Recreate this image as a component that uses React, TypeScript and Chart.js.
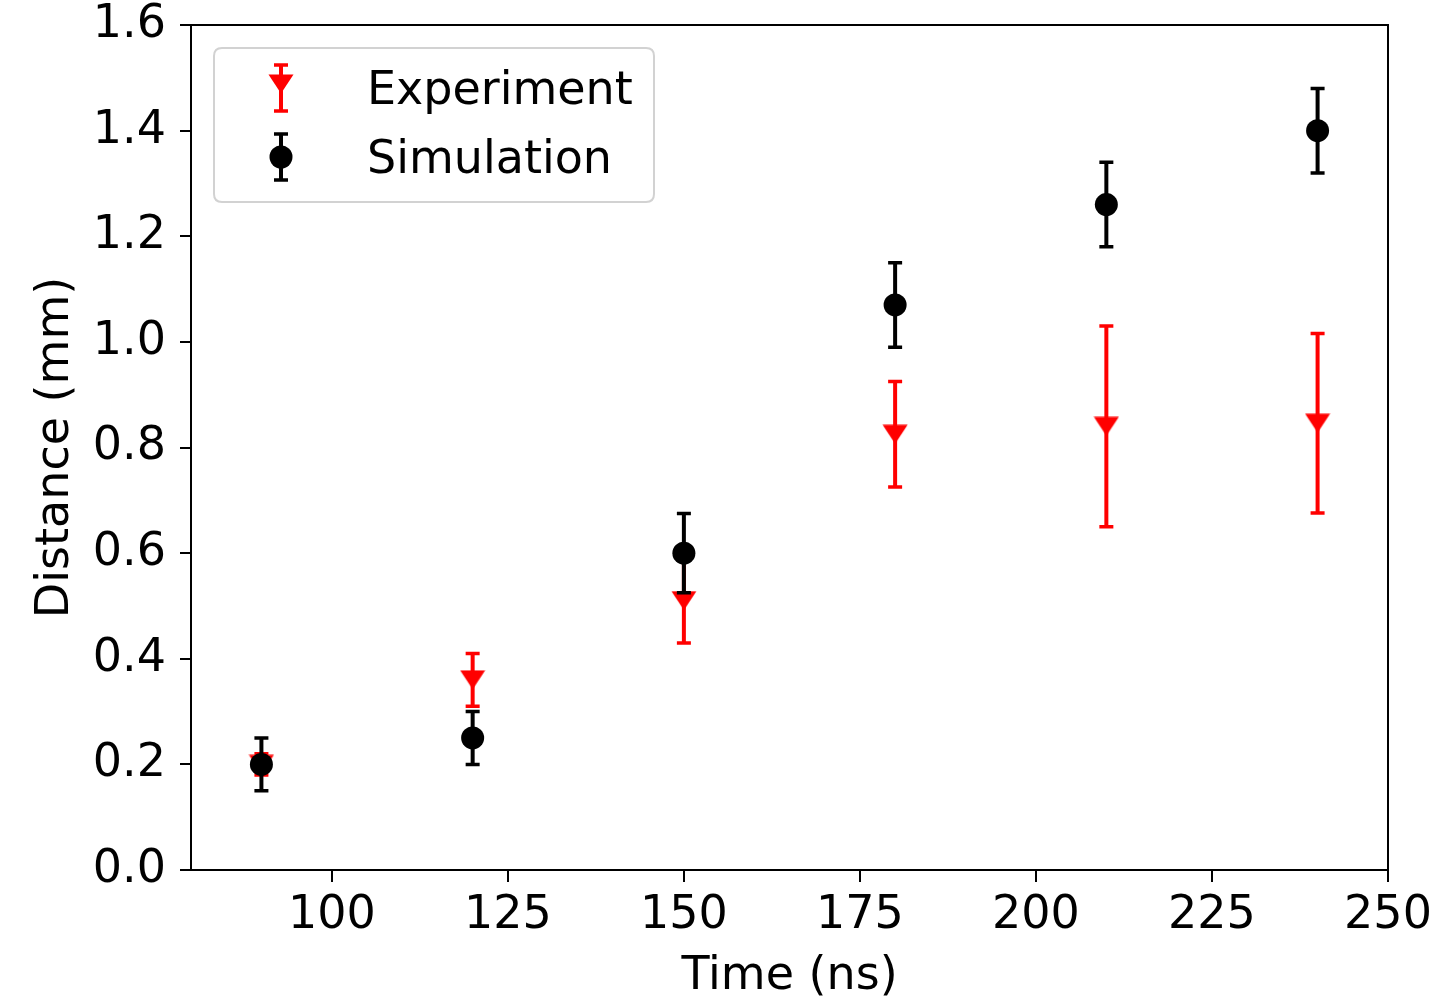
import React, { useEffect, useRef } from "react";
import { Chart, registerables } from "chart.js";

Chart.register(...registerables);

// ---- data ----
const times = [90, 120, 150, 180, 210, 240];
const experiment = [0.2, 0.36, 0.51, 0.825, 0.84, 0.846];
const experimentErr = [0.02, 0.05, 0.08, 0.1, 0.19, 0.17];
const simulation = [0.2, 0.25, 0.6, 1.07, 1.26, 1.4];
const simulationErr = [0.05, 0.05, 0.075, 0.08, 0.08, 0.08];
const xTicks = [100, 125, 150, 175, 200, 225, 250];
const yTicks = [0.0, 0.2, 0.4, 0.6, 0.8, 1.0, 1.2, 1.4, 1.6];
const seriesNames = ["Experiment", "Simulation"];
const seriesColors = ["#ff0000", "#000000"];
const xTitle = "Time (ns)";
const yTitle = "Distance (mm)";

const FONT = "'DejaVu Sans', 'Liberation Sans', sans-serif";
const FS = 46;

function makeTriangle(color: string): HTMLCanvasElement {
  const c = document.createElement("canvas");
  c.width = 26;
  c.height = 20;
  const ctx = c.getContext("2d")!;
  ctx.fillStyle = color;
  ctx.beginPath();
  ctx.moveTo(0.5, 0.5);
  ctx.lineTo(25.5, 0.5);
  ctx.lineTo(13, 19.5);
  ctx.closePath();
  ctx.fill();
  return c;
}

function drawErrorBar(ctx: CanvasRenderingContext2D, x: number, yTop: number, yBot: number, color: string) {
  ctx.save();
  ctx.strokeStyle = color;
  ctx.lineWidth = 4;
  ctx.beginPath();
  ctx.moveTo(x, yTop);
  ctx.lineTo(x, yBot);
  ctx.stroke();
  ctx.lineWidth = 3.5;
  ctx.beginPath();
  ctx.moveTo(x - 7, yTop);
  ctx.lineTo(x + 7, yTop);
  ctx.moveTo(x - 7, yBot);
  ctx.lineTo(x + 7, yBot);
  ctx.stroke();
  ctx.restore();
}

export default function App() {
  const ref = useRef<HTMLCanvasElement>(null);

  useEffect(() => {
    if (!ref.current) return;
    const tri = makeTriangle(seriesColors[0]);
    const errs = [experimentErr, simulationErr];

    const errorBars = {
      id: "errorBars",
      beforeDatasetDraw(chart: any, args: any) {
        const i = args.index;
        const ds = chart.data.datasets[i];
        const ys = chart.scales.y;
        const ctx = chart.ctx;
        args.meta.data.forEach((pt: any, j: number) => {
          const v = ds.data[j].y;
          const e = errs[i][j];
          drawErrorBar(ctx, pt.x, ys.getPixelForValue(v + e), ys.getPixelForValue(v - e), seriesColors[i]);
        });
      },
    };

    const frameAndLegend = {
      id: "frameAndLegend",
      afterDraw(chart: any) {
        const ctx = chart.ctx;
        const a = chart.chartArea;
        ctx.save();
        ctx.strokeStyle = "#000";
        ctx.lineWidth = 2;
        ctx.strokeRect(a.left, a.top, a.right - a.left, a.bottom - a.top);

        // legend box
        const lx = a.left + 23, ly = a.top + 23, lw = 440, lh = 154, r = 8;
        ctx.beginPath();
        ctx.moveTo(lx + r, ly);
        ctx.lineTo(lx + lw - r, ly);
        ctx.quadraticCurveTo(lx + lw, ly, lx + lw, ly + r);
        ctx.lineTo(lx + lw, ly + lh - r);
        ctx.quadraticCurveTo(lx + lw, ly + lh, lx + lw - r, ly + lh);
        ctx.lineTo(lx + r, ly + lh);
        ctx.quadraticCurveTo(lx, ly + lh, lx, ly + lh - r);
        ctx.lineTo(lx, ly + r);
        ctx.quadraticCurveTo(lx, ly, lx + r, ly);
        ctx.closePath();
        ctx.fillStyle = "rgba(255,255,255,0.8)";
        ctx.fill();
        ctx.strokeStyle = "#d2d2d2";
        ctx.lineWidth = 2;
        ctx.stroke();

        const mx = lx + 67;
        const tx = lx + 153;
        const rows = [ly + 40, ly + 109];
        rows.forEach((cy, i) => {
          drawErrorBar(ctx, mx, cy - 23, cy + 23, seriesColors[i]);
          if (i === 0) {
            ctx.drawImage(tri, mx - tri.width / 2, cy - 4 - tri.height / 2);
          } else {
            ctx.fillStyle = seriesColors[i];
            ctx.beginPath();
            ctx.arc(mx, cy, 11.5, 0, Math.PI * 2);
            ctx.fill();
          }
          ctx.fillStyle = "#000";
          ctx.font = `${FS}px ${FONT}`;
          ctx.textBaseline = "middle";
          ctx.textAlign = "left";
          ctx.fillText(seriesNames[i], tx, cy + 4);
        });
        ctx.restore();
      },
    };

    const chart = new Chart(ref.current, {
      type: "scatter",
      data: {
        datasets: [
          {
            label: seriesNames[0],
            data: times.map((t, i) => ({ x: t, y: experiment[i] })),
            pointStyle: tri as any,
            pointRadius: 12,
            backgroundColor: seriesColors[0],
            borderColor: seriesColors[0],
            order: 1,
          },
          {
            label: seriesNames[1],
            data: times.map((t, i) => ({ x: t, y: simulation[i] })),
            pointStyle: "circle",
            pointRadius: 11.5,
            borderWidth: 0,
            backgroundColor: seriesColors[1],
            borderColor: seriesColors[1],
            order: 0,
          },
        ],
      },
      options: {
        animation: false,
        responsive: true,
        maintainAspectRatio: false,
        layout: { padding: { left: 0, right: 48, top: 25, bottom: 0 } },
        plugins: {
          legend: { display: false },
          tooltip: { enabled: false },
        },
        scales: {
          x: {
            type: "linear",
            min: 80,
            max: 250,
            afterBuildTicks: (s: any) => {
              s.ticks = xTicks.map((v) => ({ value: v }));
            },
            afterFit: (s: any) => {
              s.height = 127;
              s.paddingLeft = 0;
              s.paddingRight = 0;
            },
            grid: { drawOnChartArea: false, color: "#000", lineWidth: 2, tickLength: 12 },
            border: { display: true, color: "#000", width: 2 },
            ticks: {
              color: "#000",
              padding: 11,
              maxRotation: 0,
              autoSkip: false,
              font: { family: FONT, size: FS, lineHeight: 1 },
              callback: (v: any) => String(v),
            },
            title: {
              display: true,
              text: xTitle,
              color: "#000",
              font: { family: FONT, size: FS, lineHeight: 0.8 },
              padding: { top: 0, bottom: 2 },
            },
          },
          y: {
            type: "linear",
            min: 0,
            max: 1.6,
            afterBuildTicks: (s: any) => {
              s.ticks = yTicks.map((v) => ({ value: v }));
            },
            afterFit: (s: any) => {
              s.width = 191;
              s.paddingTop = 0;
              s.paddingBottom = 0;
            },
            grid: { drawOnChartArea: false, color: "#000", lineWidth: 2, tickLength: 11 },
            border: { display: true, color: "#000", width: 2 },
            ticks: {
              color: "#000",
              padding: 14,
              autoSkip: false,
              font: { family: FONT, size: FS, lineHeight: 1 },
              callback: (v: any) => Number(v).toFixed(1),
            },
            title: {
              display: true,
              text: yTitle,
              color: "#000",
              font: { family: FONT, size: FS, lineHeight: 1 },
              padding: { top: 33, bottom: 0 },
            },
          },
        },
      },
      plugins: [errorBars, frameAndLegend],
    });
    return () => chart.destroy();
  }, []);

  return (
    <div style={{ position: "absolute", left: 0, top: 0, width: 1436, height: 997, background: "#fff" }}>
      <canvas ref={ref} />
    </div>
  );
}
